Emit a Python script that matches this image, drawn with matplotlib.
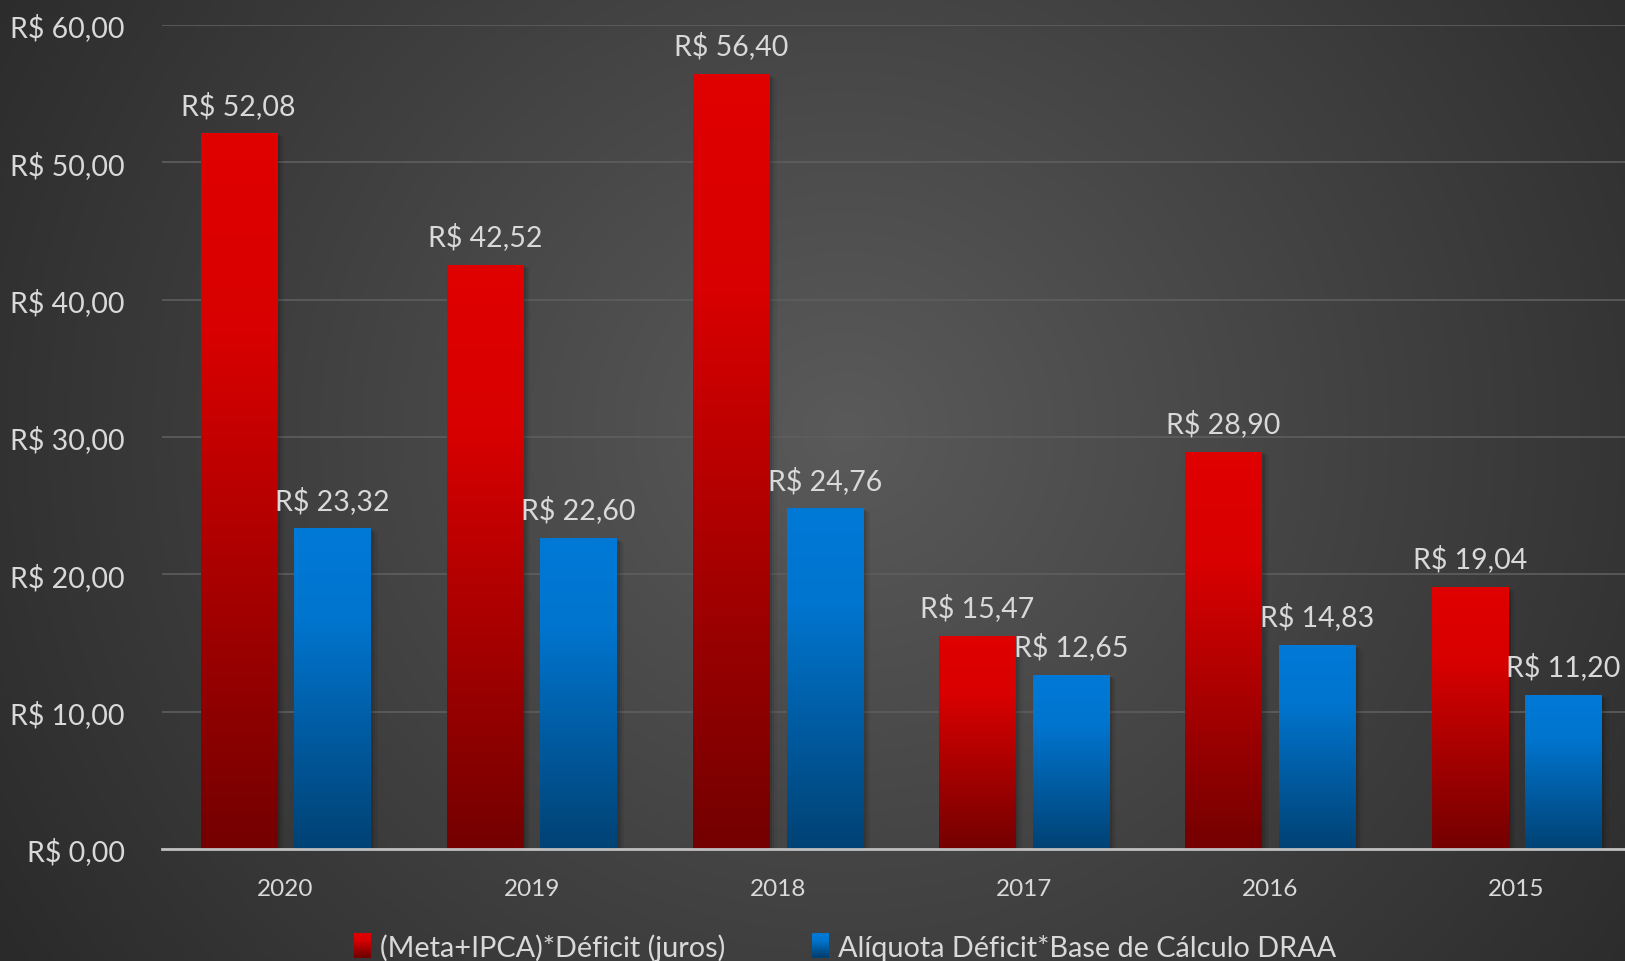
import numpy as np
import matplotlib
matplotlib.use("Agg")
import matplotlib.pyplot as plt
from matplotlib.colors import LinearSegmentedColormap, to_rgb
from matplotlib.patches import Rectangle, Patch
from matplotlib.legend_handler import HandlerPatch

plt.rcParams['font.family'] = ['Lato', 'DejaVu Sans']

years = ["2020", "2019", "2018", "2017", "2016", "2015"]
juros = [52.08, 42.52, 56.40, 15.47, 28.90, 19.04]
aliquota = [23.32, 22.60, 24.76, 12.65, 14.83, 11.20]
series_names = ["(Meta+IPCA)*Déficit (juros)", "Alíquota Déficit*Base de Cálculo DRAA"]
yticks = [0, 10, 20, 30, 40, 50, 60]

W, H = 1625, 962
fig = plt.figure(figsize=(W / 100, H / 100), dpi=100)

# radial background
bg = fig.add_axes([0, 0, 1, 1], zorder=-10)
yy, xx = np.mgrid[0:1:400j, 0:1:700j]
r = np.sqrt(((xx - 0.52) * 1.0) ** 2 + ((yy - 0.55) * 0.62) ** 2) / 0.62
r = np.clip(r, 0, 1)
c_in = np.array(to_rgb("#5a5a5a"))
c_out = np.array(to_rgb("#2a2a2a"))
img = c_in[None, None, :] * (1 - r[..., None]) + c_out[None, None, :] * r[..., None]
bg.imshow(img, extent=[0, 1, 0, 1], aspect='auto', origin='lower')
bg.set_axis_off()

cat_w = 246.2
first_center = 285.5
ax_left_px = first_center - cat_w / 2
ax_left = ax_left_px / W
ax_bottom = (H - 850) / H
ax_top = (H - 26) / H
ax = fig.add_axes([ax_left, ax_bottom, 1 - ax_left, ax_top - ax_bottom])
ax.patch.set_alpha(0)

xmax = -0.5 + (W - ax_left_px) / cat_w

red_cmap = LinearSegmentedColormap.from_list(
    "red", [(0, "#740000"), (0.72, "#d80000"), (1.0, "#e00000")])
blue_cmap = LinearSegmentedColormap.from_list(
    "blue", [(0, "#004274"), (0.72, "#0075cf"), (1.0, "#0079d6")])

bw = 0.31
off = 0.19
grad = np.linspace(0, 1, 256).reshape(-1, 1)

def draw_bar(xc, h, cmap):
    x0, x1 = xc - bw / 2, xc + bw / 2
    # soft shadow
    for k, a in [(0.012, 0.10), (0.02, 0.07), (0.03, 0.05)]:
        ax.add_patch(Rectangle((x0 + k, 0), bw, h - k * 8, facecolor='black',
                               alpha=a, edgecolor='none', zorder=1.5))
    ax.imshow(grad, cmap=cmap, extent=[x0, x1, 0, h], aspect='auto',
              origin='lower', zorder=2, interpolation='bilinear')

def fmt(v):
    return "R$ " + f"{v:.2f}".replace(".", ",")

for i in range(len(years)):
    draw_bar(i - off, juros[i], red_cmap)
    draw_bar(i + off, aliquota[i], blue_cmap)
    ax.annotate(fmt(juros[i]), (i - off, juros[i]), xytext=(0, 14.5),
                textcoords='offset points', ha='center', va='baseline',
                color='#d9d9d9', fontsize=20.5, zorder=5)
    ax.annotate(fmt(aliquota[i]), (i + off, aliquota[i]), xytext=(0, 14.5),
                textcoords='offset points', ha='center', va='baseline',
                color='#d9d9d9', fontsize=20.5, zorder=5)

ax.set_xlim(-0.5, xmax)
ax.set_ylim(0, 60)
ax.set_yticks(yticks)
ax.set_yticklabels([fmt(v) for v in yticks])
ax.set_xticks(range(len(years)))
ax.set_xticklabels(years)
ax.tick_params(axis='y', length=0, pad=27, labelsize=20.5, labelcolor='#d9d9d9')
ax.tick_params(axis='x', length=0, pad=21, labelsize=17.5, labelcolor='#d9d9d9')
ax.grid(axis='y', color='#5e5e5e', linewidth=1.2, zorder=0)
ax.set_axisbelow(True)
for s in ['top', 'right', 'left']:
    ax.spines[s].set_visible(False)
ax.spines['bottom'].set_color('#bfbfbf')
ax.spines['bottom'].set_linewidth(2)
ax.spines['bottom'].set_zorder(6)

# legend
class GradHandler(HandlerPatch):
    def __init__(self, cmap):
        super().__init__()
        self.cmap = cmap
    def create_artists(self, legend, orig_handle, xdescent, ydescent, width, height, fontsize, trans):
        arts = []
        n = 12
        for k in range(n):
            c = self.cmap(1 - k / (n - 1))
            arts.append(Rectangle((-xdescent, -ydescent + height * (1 - (k + 1) / n)),
                                  width, height / n + 0.3, facecolor=c, edgecolor='none',
                                  transform=trans))
        return arts

h1 = Patch(facecolor='#e00000')
h2 = Patch(facecolor='#0078d4')
leg = fig.legend([h1, h2], series_names, loc='center', ncol=2,
                 bbox_to_anchor=(845 / W, 14 / H), frameon=False,
                 fontsize=20.8, labelcolor='#d9d9d9', handlelength=0.6,
                 handleheight=0.9, handletextpad=0.3, columnspacing=3.0,
                 handler_map={h1: GradHandler(red_cmap), h2: GradHandler(blue_cmap)})

fig.savefig("out.png", dpi=100, facecolor='#333333')
